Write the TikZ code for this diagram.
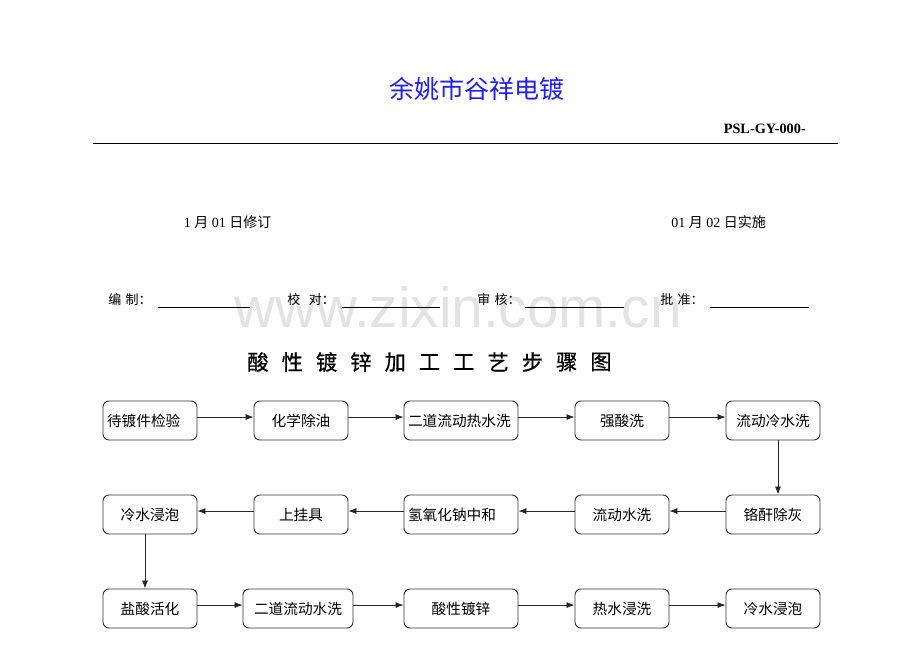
\documentclass[tikz,border=0pt]{standalone}
\usepackage{fontspec}
\setmainfont{Liberation Serif}
\newfontfamily\cjk{Noto Sans CJK SC}
\newfontfamily\cjktitle[FakeBold=0.6]{Noto Sans CJK SC}
\newfontfamily\wmfont{Liberation Sans}
\usetikzlibrary{arrows.meta}
\definecolor{titleblue}{RGB}{30,30,255}
\begin{document}
\begin{tikzpicture}[x=0.75pt,y=-0.75pt,
  stepbox/.style={draw=black!80, line width=0.7pt, rounded corners=4.5pt,
    minimum height=29.25pt, inner xsep=3pt, inner ysep=0pt,
    font=\cjk\fontsize{11}{13}\selectfont},
  leftbox/.style={stepbox, text width=#1, align=left},
  flow/.style={-{Latex[length=6pt,width=4.5pt]}, line width=0.6pt, draw=black!85},
  siglabel/.style={anchor=west, font=\cjk\fontsize{9.75}{11}\selectfont, inner sep=0pt},
  sigline/.style={line width=0.6pt},
  titlechar/.style={font=\cjktitle\fontsize{16}{18}\selectfont, inner sep=0pt}]
\useasboundingbox (0,0) rectangle (920,651);
\fill[white] (0,0) rectangle (920,651);

% watermark
\node[font=\wmfont\fontsize{42.5}{45}\selectfont, text=black!11, anchor=base, inner sep=0pt] (wm) at (458,327) {www.zixin.com.cn};

% header
\node[font=\cjk\fontsize{18.75}{20}\selectfont, text=titleblue, inner sep=0pt] (company) at (477,89) {余姚市谷祥电镀};
\node[font=\bfseries\fontsize{10.7}{12}\selectfont, anchor=base east, inner sep=0pt] (code) at (806,133) {PSL-GY-000-};
\coordinate (r1) at (93,143.5);
\coordinate (r2) at (838,143.5);
\draw[line width=0.9pt] (r1) -- (r2);

% dates
\node[font=\fontsize{10.5}{12}\selectfont, inner sep=0pt] (d1) at (227.5,222) {1 {\cjk 月} 01 {\cjk 日修订}};
\node[font=\fontsize{10.5}{12}\selectfont, inner sep=0pt] (d2) at (718.5,222) {01 {\cjk 月} 02 {\cjk 日实施}};

% signatures
\node[siglabel] (s1) at (108,300) {编\,\,制：};
\node[siglabel] (s2) at (287,300) {校\,\,\,\,对：};
\node[siglabel] (s3) at (477,300) {审\,\,核：};
\node[siglabel] (s4) at (660,300) {批\,\,准：};
\coordinate (l1a) at (158,307.5); \coordinate (l1b) at (250,307.5);
\coordinate (l2a) at (342,307.5); \coordinate (l2b) at (440,307.5);
\coordinate (l3a) at (525,307.5); \coordinate (l3b) at (624,307.5);
\coordinate (l4a) at (710,307.5); \coordinate (l4b) at (809,307.5);
\draw[sigline] (l1a) -- (l1b);
\draw[sigline] (l2a) -- (l2b);
\draw[sigline] (l3a) -- (l3b);
\draw[sigline] (l4a) -- (l4b);

% title
\foreach \c [count=\i from 0] in {酸,性,镀,锌,加,工,工,艺,步,骤,图} {
  \node[titlechar] (t\i) at (258+34.3*\i,362) {\c};
}

% row 1
\node[leftbox=64.5pt, minimum width=70.5pt] (b11) at (150,420.5) {待镀件检验};
\node[stepbox, minimum width=70.5pt] (b12) at (301,420.5) {化学除油};
\node[leftbox=79.5pt, minimum width=85.5pt] (b13) at (461,420.5) {二道流动热水洗};
\node[stepbox, minimum width=70.5pt] (b14) at (622,420.5) {强酸洗};
\node[stepbox, minimum width=70.5pt] (b15) at (773,420.5) {流动冷水洗};
% row 2
\node[stepbox, minimum width=70.5pt] (b21) at (150,514.5) {冷水浸泡};
\node[stepbox, minimum width=70.5pt] (b22) at (301,514.5) {上挂具};
\node[leftbox=79.5pt, minimum width=85.5pt] (b23) at (461,514.5) {氢氧化钠中和};
\node[stepbox, minimum width=70.5pt] (b24) at (622,514.5) {流动水洗};
\node[stepbox, minimum width=70.5pt] (b25) at (773,514.5) {铬酐除灰};
% row 3
\node[stepbox, minimum width=70.5pt] (b31) at (150,608.5) {盐酸活化};
\node[stepbox, minimum width=82.5pt] (b32) at (298,608.5) {二道流动水洗};
\node[stepbox, minimum width=85.5pt] (b33) at (461,608.5) {酸性镀锌};
\node[stepbox, minimum width=70.5pt] (b34) at (622,608.5) {热水浸洗};
\node[stepbox, minimum width=70.5pt] (b35) at (773,608.5) {冷水浸泡};

% arrows row 1
\draw[flow] ([yshift=2.6pt]b11.east) -- ([yshift=2.6pt]b12.west);
\draw[flow] ([yshift=2.6pt]b12.east) -- ([yshift=2.6pt]b13.west);
\draw[flow] ([yshift=2.6pt]b13.east) -- ([yshift=2.6pt]b14.west);
\draw[flow] ([yshift=2.6pt]b14.east) -- ([yshift=2.6pt]b15.west);
\draw[flow] ([xshift=3.75pt]b15.south) -- ([xshift=3.75pt]b25.north);
% arrows row 2
\draw[flow] ([yshift=2.6pt]b25.west) -- ([yshift=2.6pt]b24.east);
\draw[flow] ([yshift=2.6pt]b24.west) -- ([yshift=2.6pt]b23.east);
\draw[flow] ([yshift=2.6pt]b23.west) -- ([yshift=2.6pt]b22.east);
\draw[flow] ([yshift=2.6pt]b22.west) -- ([yshift=2.6pt]b21.east);
\draw[flow] ([xshift=-3.75pt]b21.south) -- ([xshift=-3.75pt]b31.north);
% arrows row 3
\draw[flow] ([yshift=2.6pt]b31.east) -- ([yshift=2.6pt]b32.west);
\draw[flow] ([yshift=2.6pt]b32.east) -- ([yshift=2.6pt]b33.west);
\draw[flow] ([yshift=2.6pt]b33.east) -- ([yshift=2.6pt]b34.west);
\draw[flow] ([yshift=2.6pt]b34.east) -- ([yshift=2.6pt]b35.west);
\end{tikzpicture}
\end{document}
